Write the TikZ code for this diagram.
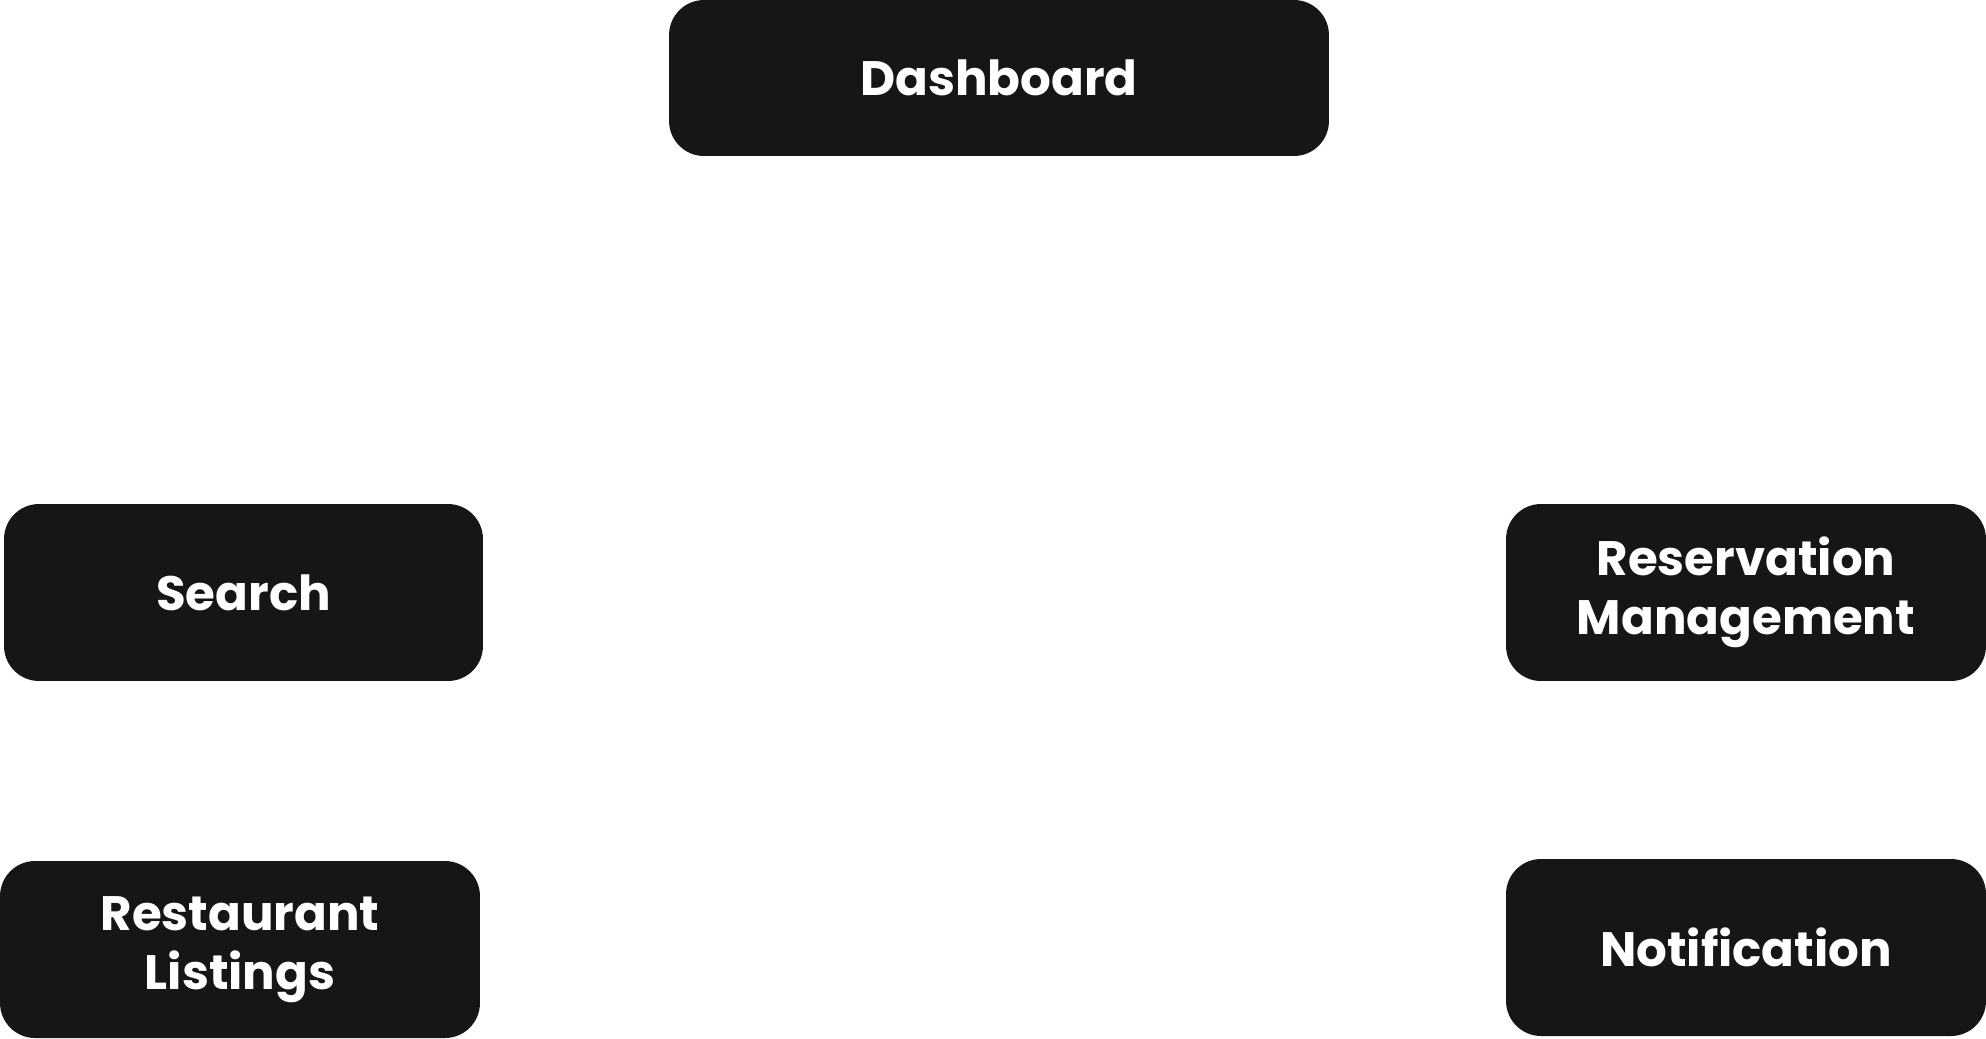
\documentclass[tikz,border=0pt]{standalone}
\usepackage{fontspec}
\setsansfont{Poppins}
\usepackage{tikz}
\usepackage{xcolor}
\definecolor{cardfill}{HTML}{161616}

\begin{document}
\begin{tikzpicture}[x=0.02cm,y=-0.02cm,
  card/.style={fill=cardfill,rounded corners=0.7cm,text=white,align=center,inner sep=0pt,
    font=\sffamily\bfseries\fontsize{27.5}{33.5}\selectfont,minimum height=3.54cm,minimum width=9.6cm}]
%frame
\useasboundingbox (0,0) rectangle (1986,1038);

%top
\node[card,minimum width=13.2cm,minimum height=3.12cm] (dash) at (999,78) {Dashboard};

%left
\node[card,minimum width=9.58cm] (search) at (243.5,592.5) {Search};
\node[card] (listings) at (240,949.5) {Restaurant\\Listings};

%right
\node[card] (reserve) at (1746,592.5) {Reservation\\Management};
\node[card] (notify) at (1746,947.5) {Notification};
\end{tikzpicture}
\end{document}
